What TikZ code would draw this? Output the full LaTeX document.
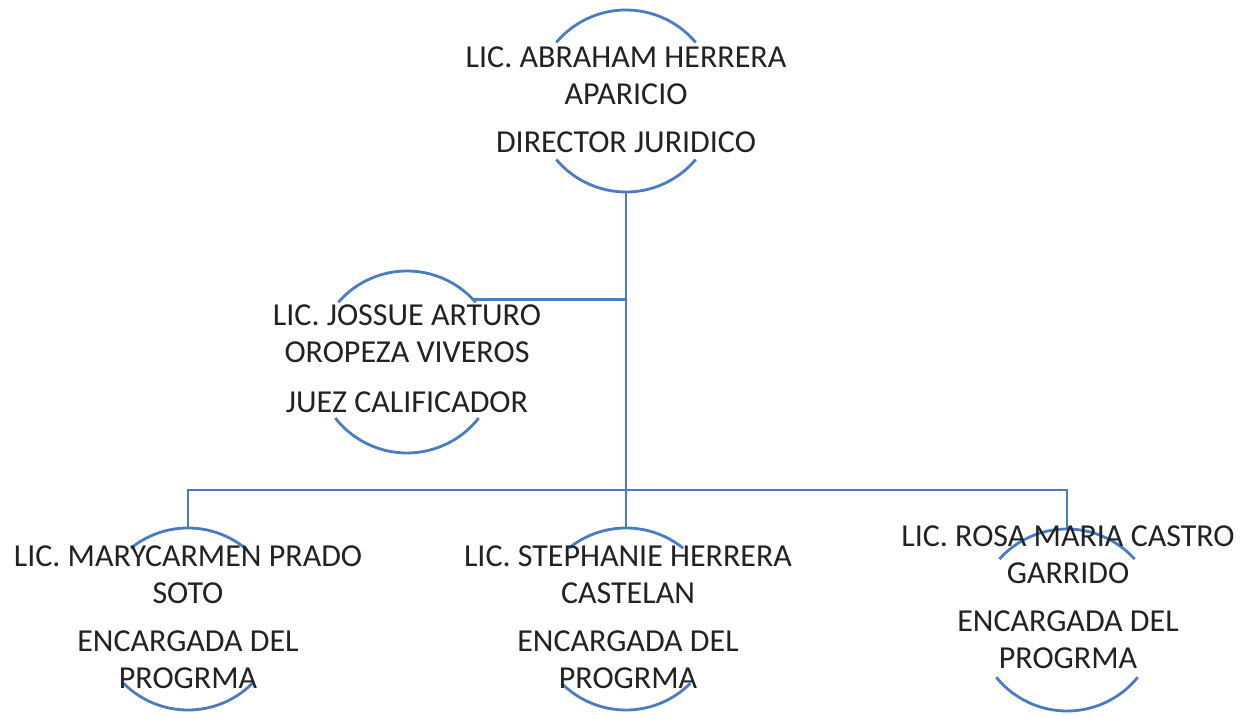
\documentclass[tikz,border=0pt]{standalone}
\usepackage{fontspec}
\setmainfont{Carlito}
\definecolor{lineblue}{HTML}{4A7CC4}
\definecolor{txt}{HTML}{222222}
\begin{document}
\begin{tikzpicture}[x=1pt,y=1pt,
  circ/.style={circle,minimum size=182pt,inner sep=0pt},
  arcline/.style={draw=lineblue,line width=2.8pt},
  conn/.style={draw=lineblue,line width=2.6pt},
  lbl/.style={align=center,anchor=base,text=txt,inner sep=0pt,
    font=\fontsize{32}{37}\selectfont}]
\useasboundingbox[fill=white] (0,0) rectangle (1249,719);
% circle nodes
\node[circ] (n1) at (626,618) {};
\node[circ] (n2) at (407,357) {};
\node[circ] (n3) at (188,100) {};
\node[circ] (n4) at (626,100) {};
\node[circ] (n5) at (1067,99) {};
% arcs
\draw[arcline] ([shift={(n1.center)}]40:91) arc[start angle=40,end angle=140,radius=91];
\draw[arcline] ([shift={(n1.center)}]220:91) arc[start angle=220,end angle=320,radius=91];
\draw[arcline] ([shift={(n2.center)}]41:91) arc[start angle=41,end angle=139,radius=91];
\draw[arcline] ([shift={(n2.center)}]218:91) arc[start angle=218,end angle=322,radius=91];
\draw[arcline] ([shift={(n3.center)}]51:91) arc[start angle=51,end angle=129,radius=91];
\draw[arcline] ([shift={(n3.center)}]225:91) arc[start angle=225,end angle=315,radius=91];
\draw[arcline] ([shift={(n4.center)}]51:91) arc[start angle=51,end angle=129,radius=91];
\draw[arcline] ([shift={(n4.center)}]225:91) arc[start angle=225,end angle=315,radius=91];
\draw[arcline] ([shift={(n5.center)}]42:91) arc[start angle=42,end angle=138,radius=91];
\draw[arcline] ([shift={(n5.center)}]219:91) arc[start angle=219,end angle=321,radius=91];
% connectors
\coordinate (bus) at (626,229);
\draw[conn] (n1.south) -- (n4.north);
\draw[conn] (n2.43) -- (n2.43 -| n1.south);
\draw[conn] (n3.north) |- (bus) -| (n5.north);
% texts (anchor = baseline of last line)
\node[lbl] (t1) at (626,566) {LIC. ABRAHAM HERRERA\\APARICIO\\[11pt]DIRECTOR JURIDICO};
\node[lbl] (t2) at (407,306) {LIC. JOSSUE ARTURO\\OROPEZA VIVEROS\\[13pt]JUEZ CALIFICADOR};
\node[lbl] (t3) at (188,30) {LIC. MARYCARMEN PRADO\\SOTO\\[11pt]ENCARGADA DEL\\PROGRMA};
\node[lbl] (t4) at (628,30) {LIC. STEPHANIE HERRERA\\CASTELAN\\[11pt]ENCARGADA DEL\\PROGRMA};
\node[lbl] (t5) at (1068,50) {LIC. ROSA MARIA CASTRO\\GARRIDO\\[11pt]ENCARGADA DEL\\PROGRMA};
\end{tikzpicture}
\end{document}
